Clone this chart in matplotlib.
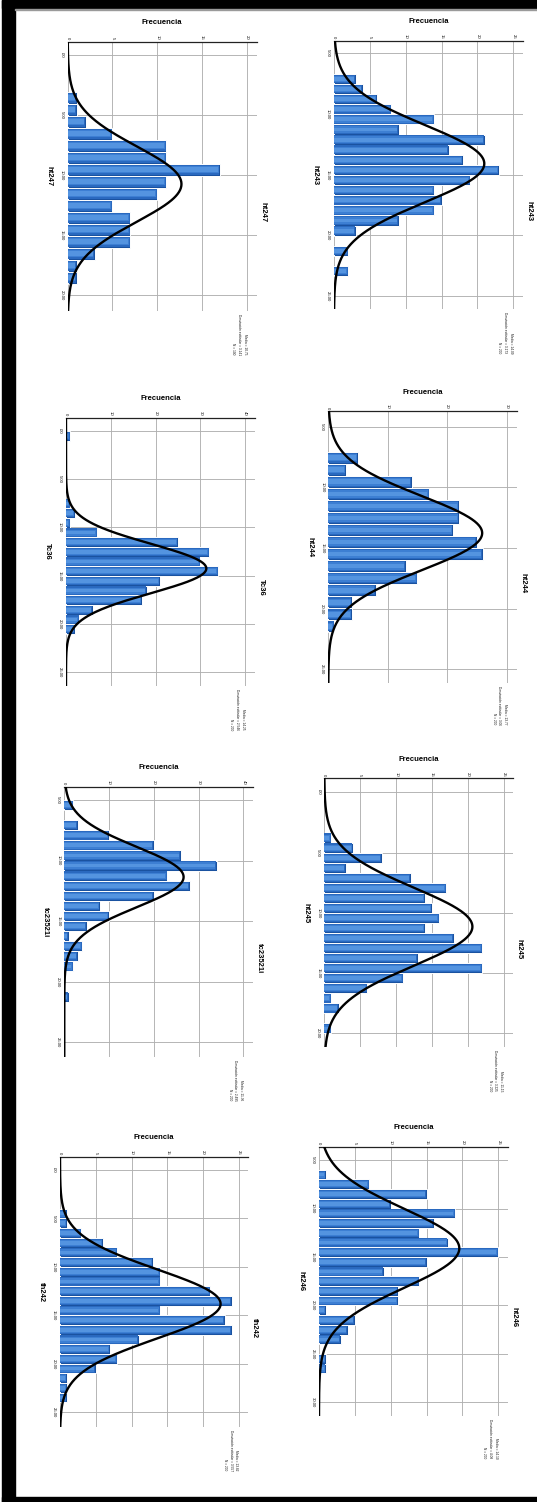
import numpy as np
import matplotlib
matplotlib.use("Agg")
import matplotlib.pyplot as plt
from matplotlib.patches import Rectangle

plt.rcParams['font.family'] = ['Liberation Sans', 'DejaVu Sans']

# ---------------- data ----------------
titles = ["ht243", "ht247", "ht244", "Tc36", "ht245", "tc23521i", "ht246", "th242"]
means = [14.09, 10.75, 13.77, 14.25, 11.15, 11.36, 14.10, 13.82]
std_devs = [3.173, 3.141, 3.06, 2.546, 3.225, 2.495, 4.08, 3.557]
n_cases = [200, 100, 200, 200, 200, 200, 200, 200]
bin_starts = [6.70, 3.05, 7.06, 0.03, 3.35, 5.00, 6.00, 4.00]
bin_widths = [0.833, 1.0, 0.993, 1.0, 0.833, 0.833, 1.0, 1.0]

counts_ht243 = [3, 4, 6, 8, 14, 9, 21, 16, 18, 23, 19, 14, 15, 14, 9, 3, 0, 2, 0, 2]
counts_ht247 = [1, 1, 2, 5, 11, 11, 17, 11, 10, 5, 7, 7, 7, 3, 1, 1]
counts_ht244 = [5, 3, 14, 17, 22, 22, 21, 25, 26, 13, 15, 8, 4, 4, 1]
counts_tc36 = [1, 0, 0, 0, 0, 0, 0, 1, 2, 1, 7, 25, 32, 30, 34, 21, 18, 17, 6, 3, 2]
counts_ht245 = [1, 4, 8, 3, 12, 17, 14, 15, 16, 14, 18, 22, 13, 22, 11, 6, 1, 2, 0, 1]
counts_tc23521i = [2, 0, 3, 10, 20, 26, 34, 23, 28, 20, 8, 10, 5, 1, 4, 3, 2, 0, 0, 1]
counts_ht246 = [1, 7, 15, 10, 19, 16, 14, 18, 25, 15, 9, 14, 11, 11, 1, 5, 4, 3, 0, 1, 1]
counts_th242 = [1, 1, 3, 6, 8, 13, 14, 14, 21, 24, 14, 23, 24, 11, 7, 8, 5, 1, 1, 1]
all_counts = [counts_ht243, counts_ht247, counts_ht244, counts_tc36,
              counts_ht245, counts_tc23521i, counts_ht246, counts_th242]

freq_ticks = [[0, 5, 10, 15, 20, 25], [0, 5, 10, 15, 20], [0, 10, 20, 30],
              [0, 10, 20, 30, 40], [0, 5, 10, 15, 20, 25], [0, 10, 20, 30, 40],
              [0, 5, 10, 15, 20, 25], [0, 5, 10, 15, 20, 25]]
value_ticks = [[5, 10, 15, 20, 25], [0, 5, 10, 15, 20], [5, 10, 15, 20, 25],
               [0, 5, 10, 15, 20, 25], [0, 5, 10, 15, 20], [5, 10, 15, 20, 25],
               [5, 10, 15, 20, 25, 30], [0, 5, 10, 15, 20, 25]]

# ---------------- layout (pixels) ----------------
W, H, DPI = 537, 1502, 100
# x0 (freq 0), x1 (right edge), y0 (top), y1 (bottom), freq max, value min, value max
layout = [
    (334.0, 522.7, 40.7, 309.3, 26.3, 3.96, 26.1),
    (67.7, 256.7, 41.7, 310.7, 21.1, -1.11, 21.3),
    (328.3, 517.3, 411.0, 682.7, 31.8, 3.71, 26.1),
    (66.0, 255.0, 417.7, 686.0, 42.2, -1.34, 26.4),
    (324.3, 513.3, 778.3, 1047.3, 26.3, -1.16, 21.16),
    (64.3, 253.3, 786.7, 1056.7, 42.2, 3.9, 26.2),
    (319.0, 507.7, 1146.7, 1416.0, 26.3, 3.62, 31.4),
    (60.0, 248.3, 1156.7, 1426.7, 26.3, -1.38, 26.5),
]

fig = plt.figure(figsize=(W / DPI, H / DPI), dpi=DPI)
fig.patch.set_facecolor("white")

# page border
fig.add_artist(Rectangle((2 / W, 0), 13 / W, 1, transform=fig.transFigure, color="black", zorder=10))
fig.add_artist(Rectangle((2 / W, 1 - 8 / H), (W - 2) / W, 8 / H, transform=fig.transFigure, color="black", zorder=10))
fig.add_artist(Rectangle((2 / W, 0), (W - 2) / W, 5 / H, transform=fig.transFigure, color="black", zorder=10))
fig.add_artist(Rectangle((15 / W, 1 - 9.5 / H), (W - 15) / W, 0.8 / H, transform=fig.transFigure, color="#9a9a9a", zorder=10))


def fx(px):
    return px / W


def fy(py):
    return 1 - py / H


def vlabel(v):
    return ".00" if v == 0 else f"{v:.2f}"


grid_col = "#b0b0b0"

for i in range(8):
    x0, x1, y0, y1, fmax, vmin, vmax = layout[i]
    ax = fig.add_axes([fx(x0), fy(y1), (x1 - x0) / W, (y1 - y0) / H])
    ax.set_xlim(0, fmax)
    ax.set_ylim(vmax, vmin)
    ax.set_facecolor("none")
    for s in ["left", "right", "bottom"]:
        ax.spines[s].set_visible(False)
    ax.spines["top"].set_color("#222222")
    ax.spines["top"].set_linewidth(0.9)

    ax.xaxis.tick_top()
    ax.set_xticks(freq_ticks[i])
    ax.set_xticklabels([str(t) for t in freq_ticks[i]], rotation=-90, fontsize=3.1)
    ax.set_yticks(value_ticks[i])
    ax.set_yticklabels([vlabel(v) for v in value_ticks[i]], rotation=-90, fontsize=3.1, va="center")
    ax.tick_params(axis="x", length=0, pad=1.5, labelcolor="#111111")
    ax.tick_params(axis="y", length=0, pad=3.0, labelcolor="#111111")
    ax.grid(True, color=grid_col, linewidth=0.65, zorder=0)
    ax.set_axisbelow(True)

    counts = np.array(all_counts[i], dtype=float)
    bw = bin_widths[i]
    centers = bin_starts[i] + bw * (np.arange(len(counts)) + 0.5)
    px_per_x = (x1 - x0) / fmax
    d = 1.0 / px_per_x
    mask = counts > 0
    layers = [(1.00, 0.0, "#1a52a0"), (0.84, 0.7, "#2a69bf"),
              (0.62, 1.4, "#3d7fd3"), (0.38, 2.0, "#5494e0")]
    for k, (hf, shrink, col) in enumerate(layers):
        wv = np.clip(counts[mask] - shrink * d, 0, None)
        ax.barh(centers[mask], wv, height=bw * hf, color=col,
                edgecolor="white" if k == 0 else "none",
                linewidth=0.7 if k == 0 else 0, zorder=2 + k)

    # normal curve
    vv = np.linspace(vmin, vmax, 400)
    sd = std_devs[i]
    pdf = n_cases[i] * bw * np.exp(-0.5 * ((vv - means[i]) / sd) ** 2) / (sd * np.sqrt(2 * np.pi))
    ax.plot(pdf, vv, color="black", linewidth=1.7, zorder=10, solid_capstyle="round")

    # texts
    cx = (x0 + x1) / 2
    cy = (y0 + y1) / 2
    fig.text(fx(cx), fy(y0 - 19), "Frecuencia", fontsize=5.5, fontweight="bold",
             ha="center", va="center")
    fig.text(fx(x0 - 18.5), fy(cy), titles[i], fontsize=5.5, fontweight="bold",
             rotation=-90, ha="center", va="center")
    fig.text(fx(x1 + 6), fy(cy + 36), titles[i], fontsize=5.5, fontweight="bold",
             rotation=-90, ha="center", va="center")
    stats = f"Media = {means[i]:.2f}\nDesviación estándar = {std_devs[i]}\nN = {n_cases[i]}"
    fig.text(fx(x1 - 10), fy(y1 + 3), stats, fontsize=2.3, rotation=-90,
             ha="right", va="top", linespacing=1.6, color="#111111")

fig.savefig("out.png", dpi=DPI)
